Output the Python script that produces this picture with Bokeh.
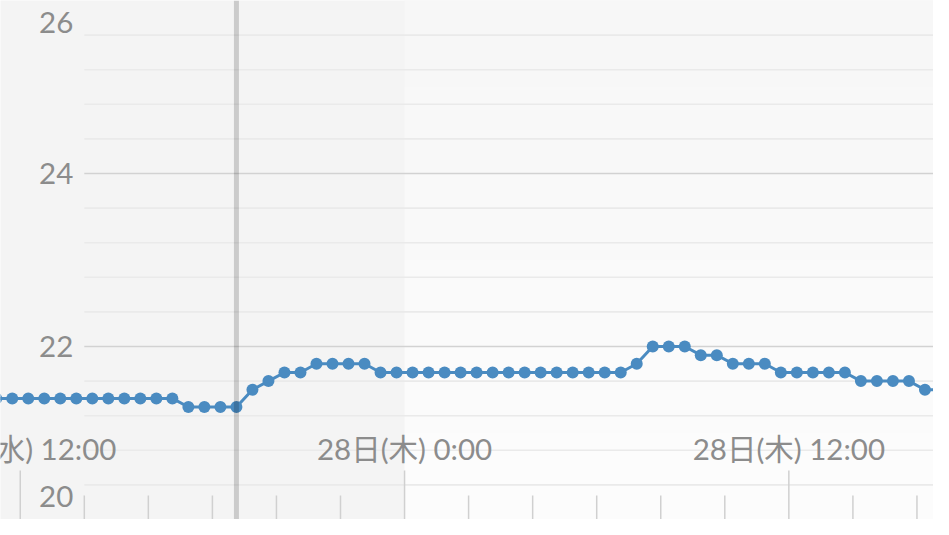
import numpy as np
import pandas as pd
from bokeh.plotting import figure
from bokeh.models import Span, BoxAnnotation, ColumnDataSource, Range1d
from bokeh.core.properties import value
from bokeh.embed import file_html
from bokeh.resources import INLINE

# ---------------- data ----------------
first_time = "2024-11-27 11:15"          # half-hourly readings
temps = [
    21.4, 21.4, 21.4, 21.4, 21.4, 21.4, 21.4, 21.4, 21.4, 21.4, 21.4, 21.4,   # 11:15 - 16:45
    21.3, 21.3, 21.3, 21.3,                                                   # 17:15 - 18:45
    21.5, 21.6, 21.7, 21.7,                                                   # 19:15 - 20:45
    21.8, 21.8, 21.8, 21.8,                                                   # 21:15 - 22:45
    21.7, 21.7,                                                               # 23:15 - 23:45
    21.7, 21.7, 21.7, 21.7, 21.7, 21.7, 21.7, 21.7, 21.7, 21.7, 21.7, 21.7,   # 0:15 - 5:45
    21.7, 21.7,                                                               # 6:15 - 6:45
    21.8, 22.0, 22.0, 22.0, 21.9, 21.9, 21.8, 21.8, 21.8,                     # 7:15 - 11:15
    21.7, 21.7, 21.7, 21.7, 21.7,                                             # 11:45 - 13:45
    21.6, 21.6, 21.6, 21.6, 21.5, 21.5,                                       # 14:15 - 16:45
]
times = pd.date_range(first_time, periods=len(temps), freq="30min")

x_start = "2024-11-27 11:23"
x_end = "2024-11-28 16:31"
y_min, y_max = 20, 26

major_tick_times = ["2024-11-27 12:00", "2024-11-28 00:00", "2024-11-28 12:00"]
major_tick_labels = ["27日(水) 12:00", "28日(木) 0:00", "28日(木) 12:00"]
minor_tick_times = ["2024-11-27 14:00", "2024-11-27 16:00", "2024-11-27 18:00",
                    "2024-11-27 20:00", "2024-11-27 22:00", "2024-11-28 02:00",
                    "2024-11-28 04:00", "2024-11-28 06:00", "2024-11-28 08:00",
                    "2024-11-28 10:00", "2024-11-28 14:00", "2024-11-28 16:00"]

y_tick_values = [20, 22, 24, 26]
y_tick_labels = ["20", "22", "24", "26"]
y_label_shift = [-23, 0, 0, 22]          # edge labels are kept inside the chart
major_grid_values = [22, 24]
minor_grid_values = [20.4, 20.8, 21.2, 21.6, 22.4, 22.8, 23.2, 23.6,
                     24.4, 24.8, 25.2, 25.6]
grid_start = "2024-11-27 14:00"

day_boundary = "2024-11-28 00:00"
marker_time = "2024-11-27 18:45"

# ---------------- styling ----------------
W, H = 933, 519
LINE = "#4a8bc1"
TEXT = "#8c8c8c"
FONT = value("Lato, 'Noto Sans CJK JP', sans-serif")
FONT_SIZE = "29.5px"


def ms(t):
    return pd.Timestamp(t).value / 1e6


p = figure(width=W, height=H, output_backend="svg", toolbar_location=None,
           x_axis_type="datetime",
           x_range=Range1d(pd.Timestamp(x_start), pd.Timestamp(x_end)),
           y_range=Range1d(y_min, y_max),
           min_border=0, background_fill_color="#f4f4f4",
           border_fill_color="#f4f4f4", outline_line_color=None)
p.xaxis.visible = False
p.yaxis.visible = False
p.xgrid.visible = False
p.ygrid.visible = False

# lighter background for the current day (soft vertical gradient)
band_colors = ["#f7f7f7", "#f8f8f8", "#f9f9f9", "#fafafa", "#fbfbfb", "#fcfcfc"]
for i, c in enumerate(band_colors):
    top = y_max - i
    p.add_layout(BoxAnnotation(left=ms(day_boundary), top=top, bottom=top - 1,
                               fill_color=c, fill_alpha=1.0, line_color=None,
                               level="underlay"))

# grid lines
gs = pd.Timestamp(grid_start)
ge = pd.Timestamp(x_end) + pd.Timedelta(hours=1)
p.segment(x0=[gs] * len(minor_grid_values), x1=[ge] * len(minor_grid_values),
          y0=minor_grid_values, y1=minor_grid_values,
          line_color="#eaeaea", line_width=1.6)
p.segment(x0=[gs] * len(major_grid_values), x1=[ge] * len(major_grid_values),
          y0=major_grid_values, y1=major_grid_values,
          line_color="#d2d2d2", line_width=1.6)

# x ticks
mt = pd.to_datetime(major_tick_times)
nt = pd.to_datetime(minor_tick_times)
p.ray(x=mt, y=[y_min] * len(mt), length=49, angle=np.pi / 2,
      length_units="screen", line_color="#d0d0d0", line_width=1.5)
p.ray(x=nt, y=[y_min] * len(nt), length=24, angle=np.pi / 2,
      length_units="screen", line_color="#d0d0d0", line_width=1.5)

# x tick labels
p.text(x=mt, y=[y_min] * len(mt), text=major_tick_labels, y_offset=-71,
       text_align="center", text_baseline="middle", text_color=TEXT,
       text_font=FONT, text_font_size=FONT_SIZE)

# y tick labels
ysrc = ColumnDataSource(dict(x=[gs] * len(y_tick_values), y=y_tick_values,
                             t=y_tick_labels, yoff=y_label_shift))
p.text(x="x", y="y", text="t", y_offset="yoff", x_offset=-11, source=ysrc,
       text_align="right", text_baseline="middle", text_color=TEXT,
       text_font=FONT, text_font_size=FONT_SIZE)

# series
p.line(times, temps, line_color=LINE, line_width=3)
p.scatter(times, temps, size=12, fill_color=LINE, line_color=None)

# time marker
p.add_layout(Span(location=ms(marker_time), dimension="height",
                  line_color="#000000", line_alpha=0.17, line_width=5))

open("out.html", "w").write(file_html(p, INLINE))
